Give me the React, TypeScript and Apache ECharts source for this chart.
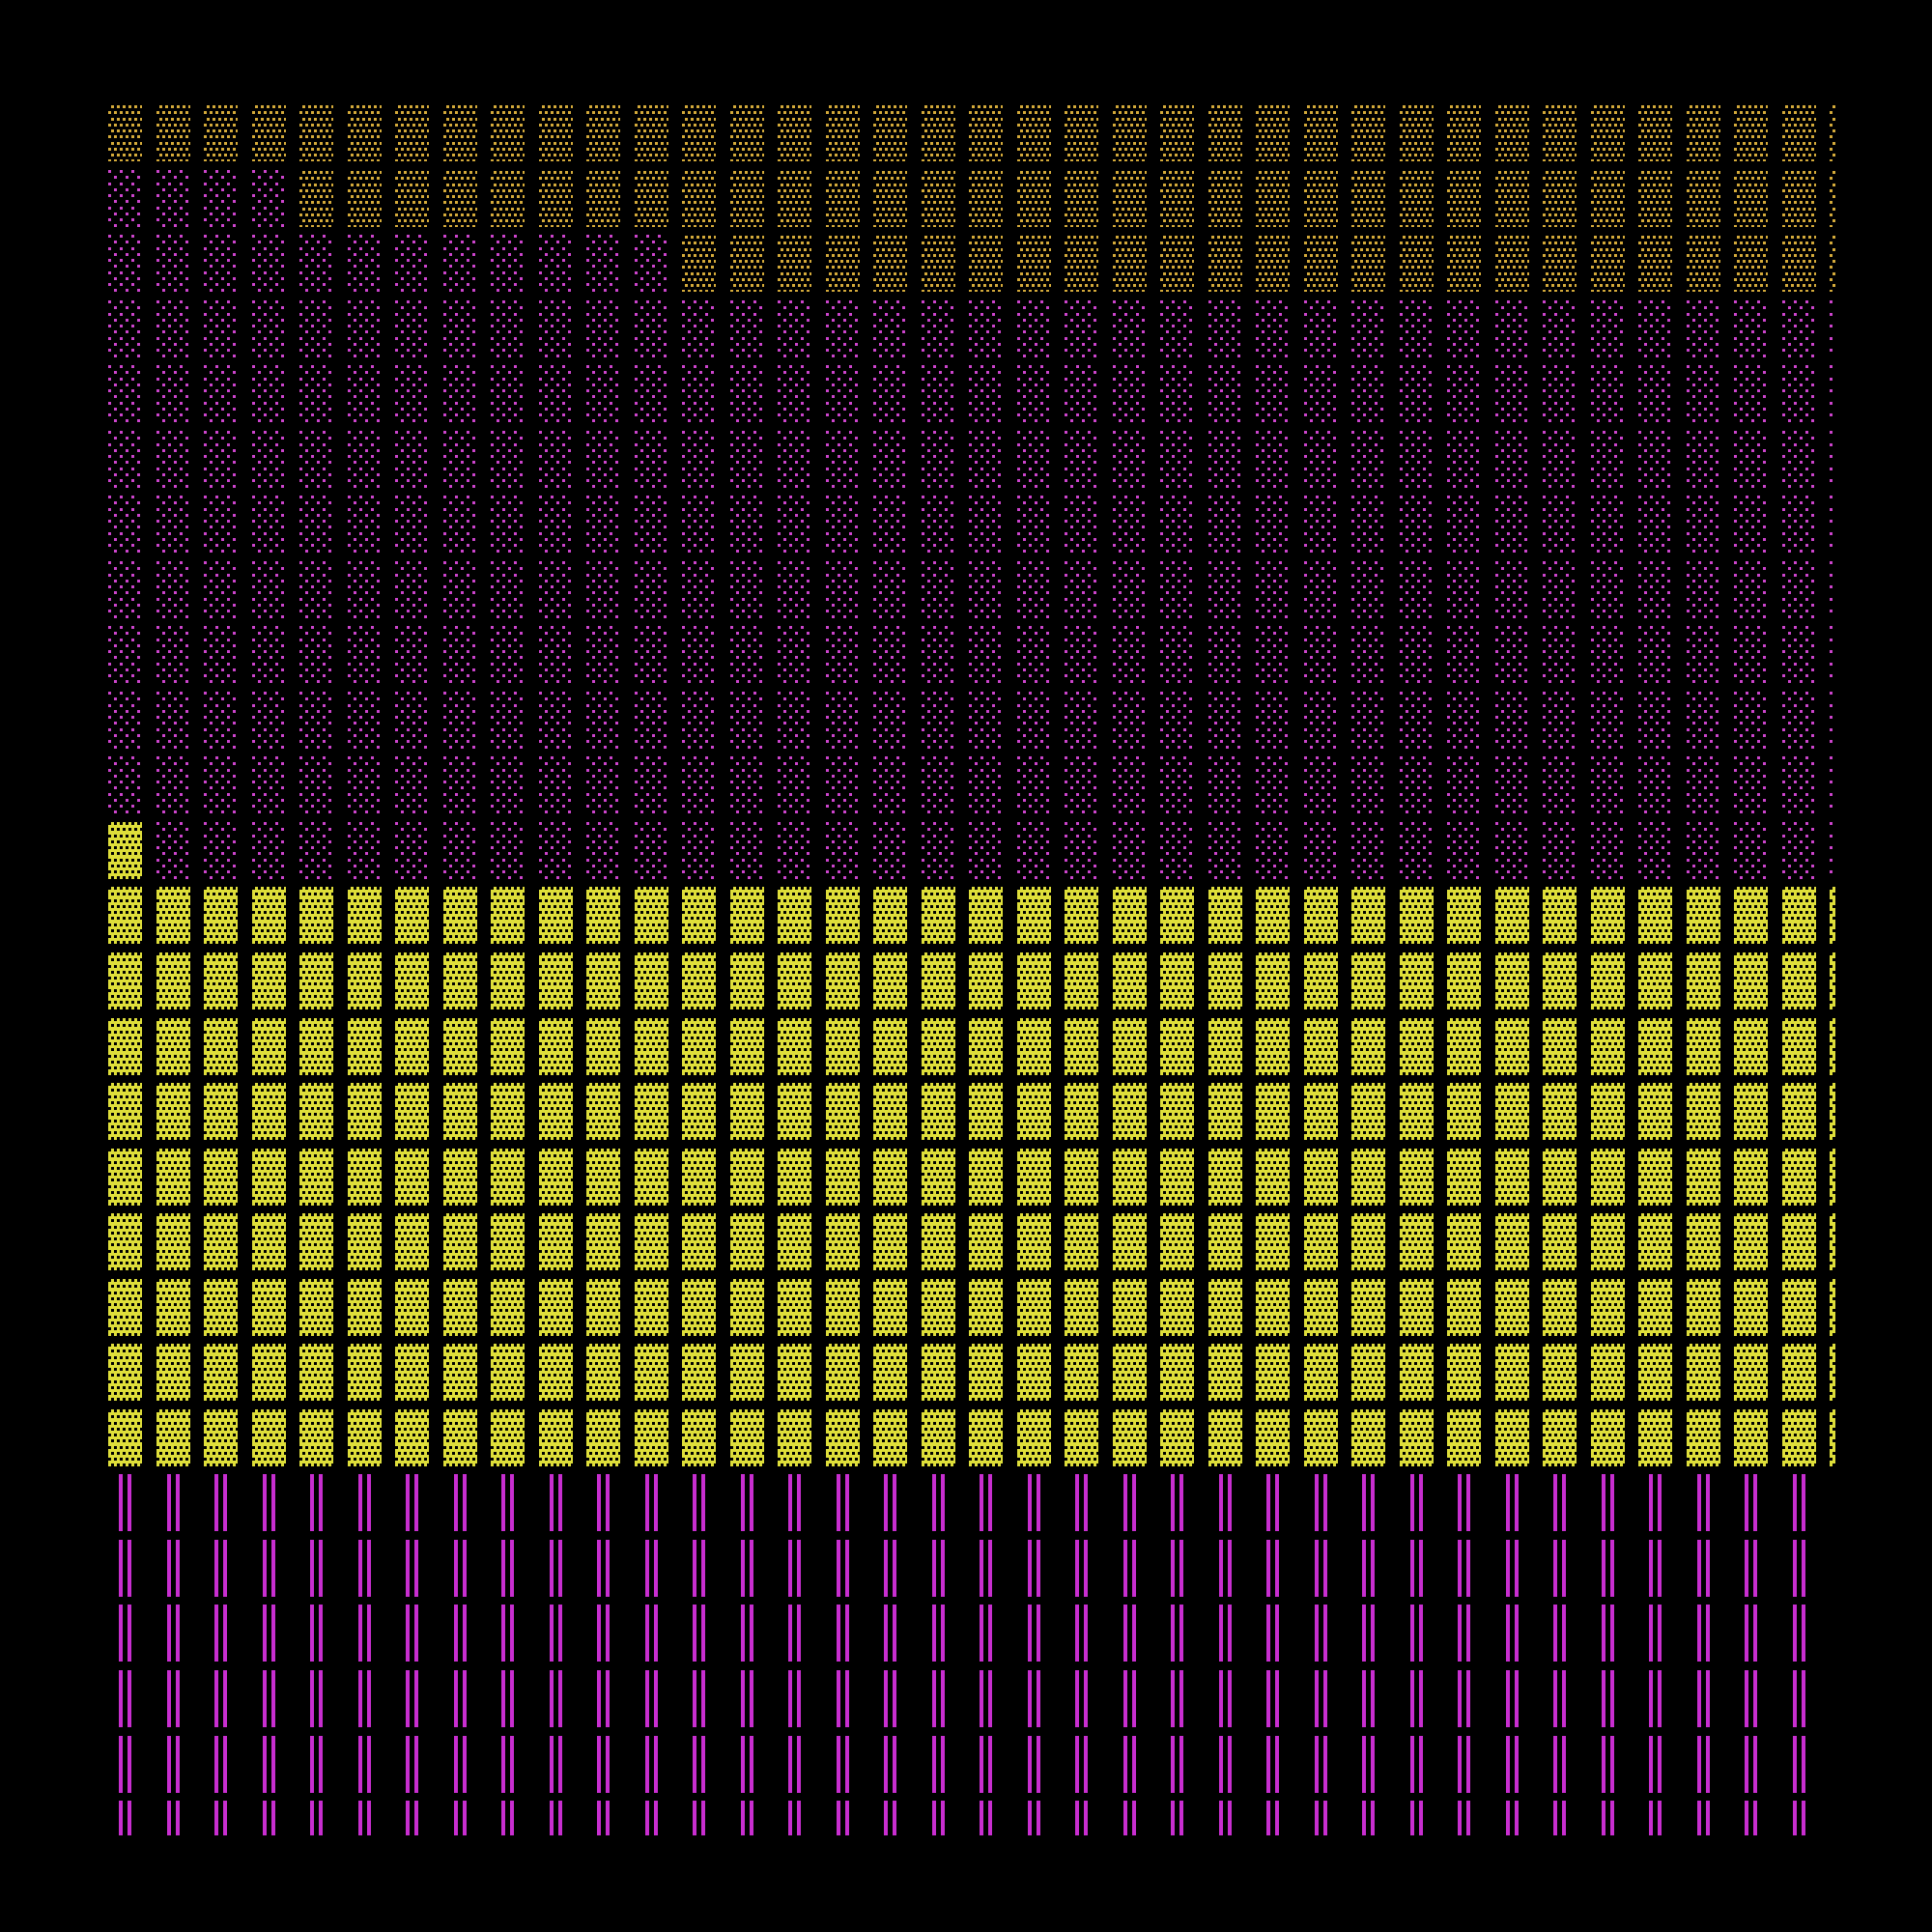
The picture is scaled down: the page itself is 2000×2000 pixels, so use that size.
import React, { useEffect, useRef } from "react";
import * as echarts from "echarts";

// ---- data: unit counts per column, stacked from the bottom ----
const SERIES_NAMES = ["Lines", "Yellow", "Magenta", "Gold"];
const LINES = [6, 6, 6, 6, 6, 6, 6, 6, 6, 6, 6, 6, 6, 6, 6, 6, 6, 6, 6, 6, 6, 6, 6, 6, 6, 6, 6, 6, 6, 6, 6, 6, 6, 6, 6, 6, 6];
const YELLOW = [10, 9, 9, 9, 9, 9, 9, 9, 9, 9, 9, 9, 9, 9, 9, 9, 9, 9, 9, 9, 9, 9, 9, 9, 9, 9, 9, 9, 9, 9, 9, 9, 9, 9, 9, 9, 9];
const MAGENTA = [10, 11, 11, 11, 10, 10, 10, 10, 10, 10, 10, 10, 9, 9, 9, 9, 9, 9, 9, 9, 9, 9, 9, 9, 9, 9, 9, 9, 9, 9, 9, 9, 9, 9, 9, 9, 9];
const GOLD = [1, 1, 1, 1, 2, 2, 2, 2, 2, 2, 2, 2, 3, 3, 3, 3, 3, 3, 3, 3, 3, 3, 3, 3, 3, 3, 3, 3, 3, 3, 3, 3, 3, 3, 3, 3, 3];
const VALUES = [LINES, YELLOW, MAGENTA, GOLD];
const TOTAL_ROWS = 27;

// ---- layout / style constants ----
const SIZE = 2000;
const GRID = { left: 112, top: 108, right: 100, bottom: 100 };
const PITCH_X = 49.5;
const PITCH_Y = 67.54;
const CELL_W = 35;
const CELL_H = 59;

const COLOR_GOLD = "#d4aa3a";
const COLOR_MAGENTA = "#cc44cc";
const COLOR_YELLOW = "#dede3a";
const COLOR_LINES = "#c82ed0";

type Tile = { w: number; h: number; bg: string | null; fg: string; rects: number[][] };

function makeTile(t: Tile) {
  const c = document.createElement("canvas");
  c.width = t.w;
  c.height = t.h;
  const ctx = c.getContext("2d")!;
  if (t.bg) {
    ctx.fillStyle = t.bg;
    ctx.fillRect(0, 0, t.w, t.h);
  }
  ctx.fillStyle = t.fg;
  t.rects.forEach(([x, y, w, h]) => {
    ctx.fillRect(x, y, w, h);
    // wrap horizontally / vertically
    if (x + w > t.w) ctx.fillRect(x - t.w, y, w, h);
    if (y + h > t.h) ctx.fillRect(x, y - t.h, w, h);
  });
  return {
    image: c.toDataURL(),
    repeat: "repeat",
    imageWidth: t.w,
    imageHeight: t.h,
  };
}

const DOT_ROWS = [0, 6, 13, 19];

function buildPatterns() {
  const gold = makeTile({
    w: 6,
    h: 25,
    bg: null,
    fg: COLOR_GOLD,
    rects: DOT_ROWS.map((y, i) => [i % 2 === 0 ? 3 : 0, y + 1, 3, 3]),
  });
  const magenta = makeTile({
    w: 12,
    h: 25,
    bg: null,
    fg: COLOR_MAGENTA,
    rects: DOT_ROWS.map((y, i) => [i % 2 === 0 ? 0 : 6, y, 3, 3]),
  });
  const yellow = makeTile({
    w: 6,
    h: 25,
    bg: COLOR_YELLOW,
    fg: "#000000",
    rects: DOT_ROWS.map((y, i) => [i % 2 === 0 ? 0 : 3, y, 3, 3]),
  });
  const lines = makeTile({
    w: 60,
    h: 1,
    bg: null,
    fg: COLOR_LINES,
    rects: [
      [11, 0, 4, 1],
      [20, 0, 4, 1],
    ],
  });
  return [lines, yellow, magenta, gold];
}

function buildCells() {
  const perSeries: number[][][] = VALUES.map(() => []);
  const nCols = VALUES[0].length;
  for (let c = 0; c < nCols; c++) {
    let base = 0;
    VALUES.forEach((arr, si) => {
      for (let k = 0; k < arr[c]; k++) {
        perSeries[si].push([c, base + k]);
      }
      base += arr[c];
    });
  }
  return perSeries;
}

export default function App() {
  const ref = useRef<HTMLDivElement>(null);

  useEffect(() => {
    document.body.style.margin = "0";
    document.body.style.background = "#000";
    if (!ref.current) return;
    const chart = echarts.init(ref.current, undefined, { renderer: "svg" });
    const patterns = buildPatterns();
    const cells = buildCells();
    const plotW = SIZE - GRID.left - GRID.right;
    const plotH = SIZE - GRID.top - GRID.bottom;

    const renderItem = (si: number) => (params: any, api: any) => {
      const col = api.value(0);
      const row = api.value(1);
      const p = api.coord([col, row + 1]);
      const cs = params.coordSys;
      const left = Math.round(p[0] + 1e-6);
      const top = Math.round(p[1] + 1e-6);
      const right = Math.min(Math.round(p[0] + CELL_W + 1e-6), cs.x + cs.width);
      const bottom = Math.min(Math.round(p[1] + CELL_H + 1e-6), cs.y + cs.height);
      if (right <= left || bottom <= top) return null;
      return {
        type: "rect",
        x: left,
        y: top,
        shape: { x: 0, y: 0, width: right - left, height: bottom - top },
        style: { fill: patterns[si], stroke: null },
        silent: true,
      };
    };

    chart.setOption({
      backgroundColor: "#000000",
      animation: false,
      grid: { ...GRID, containLabel: false },
      xAxis: { type: "value", min: 0, max: plotW / PITCH_X, show: false },
      yAxis: { type: "value", min: TOTAL_ROWS - plotH / PITCH_Y, max: TOTAL_ROWS, show: false },
      tooltip: { show: false },
      series: SERIES_NAMES.map((name, si) => ({
        type: "custom",
        name,
        renderItem: renderItem(si),
        data: cells[si],
        clip: false,
      })),
    });
    return () => chart.dispose();
  }, []);

  return (
    <div
      ref={ref}
      style={{ position: "fixed", left: 0, top: 0, width: SIZE, height: SIZE, background: "#000" }}
    />
  );
}
